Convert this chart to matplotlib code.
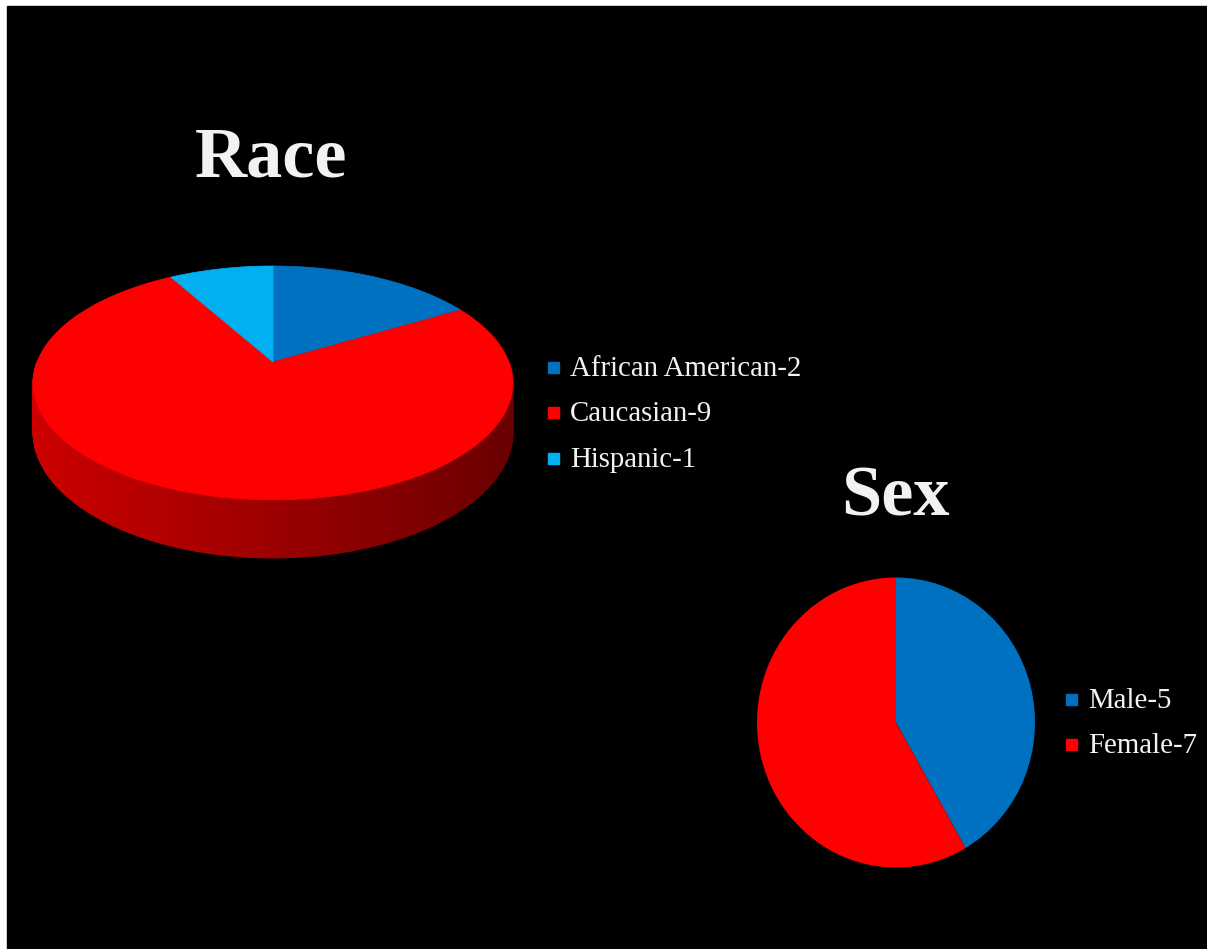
import numpy as np
import matplotlib.pyplot as plt
from matplotlib.colors import to_rgb
from matplotlib.patches import Rectangle, Polygon
from matplotlib.collections import PolyCollection

race_labels = ['African American-2', 'Caucasian-9', 'Hispanic-1']
race_counts = [2, 9, 1]
race_colors = ['#0070C0', '#FF0000', '#00B0F0']

sex_labels = ['Male-5', 'Female-7']
sex_counts = [5, 7]
sex_colors = ['#0070C0', '#FF0000']

W, H = 1207, 949
fig = plt.figure(figsize=(W / 100, H / 100), dpi=100, facecolor='white')
ax = fig.add_axes([0, 0, 1, 1])
ax.set_xlim(0, W)
ax.set_ylim(H, 0)
ax.axis('off')
ax.add_patch(Rectangle((7, 6), W, H, color='black', zorder=0))

serif = 'Liberation Serif'
txt_color = '#F2F2F2'

# --- Race: tilted 3D pie, drawn in pixel space with a simple perspective ---
cx, cy = 273, 362
rx, ry, k, depth = 236, 113.2, 0.179, 47.6


def project(t, z=0.0):
    x, y = np.cos(t), np.sin(t)
    f = 1 + k * y
    return cx + rx * x / f, cy - ry * y / f + depth * z / f


total = sum(race_counts)
bounds = 90 - 360 * np.concatenate([[0], np.cumsum(race_counts)]) / total

# side wall (front half only), shaded darker towards the right
ts = np.linspace(np.pi, 2 * np.pi, 181)
strips, shades = [], []
for a, b in zip(ts[:-1], ts[1:]):
    deg = np.degrees(0.5 * (a + b))
    # which slice owns this part of the rim
    d = (deg - 360) if deg > 90 else deg
    idx = 0
    for i in range(len(race_counts)):
        lo, hi = sorted((bounds[i + 1], bounds[i]))
        if lo <= d <= hi or lo <= d - 360 <= hi:
            idx = i
    xa, ya = project(a)
    xb, yb = project(b)
    xb2, yb2 = project(b, 1)
    xa2, ya2 = project(a, 1)
    strips.append([(xa, ya), (xb, yb), (xb2, yb2), (xa2, ya2)])
    frac = (xa - (cx - rx)) / (2 * rx)
    base = np.array(to_rgb(race_colors[idx]))
    shades.append(tuple(base * (0.80 - 0.38 * frac)))
ax.add_collection(PolyCollection(strips, facecolors=shades, edgecolors=shades,
                                 linewidths=0.8, zorder=2))

# top face
for i, col in enumerate(race_colors):
    t = np.radians(np.linspace(bounds[i], bounds[i + 1], 120))
    px, py = project(t)
    pts = [(cx, cy)] + list(zip(px, py))
    ax.add_patch(Polygon(pts, closed=True, facecolor=col, edgecolor=col,
                         linewidth=0.5, zorder=3))

ax.text(271, 176, 'Race', fontsize=52, fontweight='bold', family=serif,
        color=txt_color, ha='center', va='baseline')

race_y = [368, 413, 459]
for y, lab, col in zip(race_y, race_labels, race_colors):
    ax.add_patch(Rectangle((548, y - 6), 11, 11, color=col, zorder=3))
    ax.text(570, y + 8, lab, fontsize=20.8, family=serif, color=txt_color,
            va='baseline', ha='left')

# --- Sex: flat pie ---
scx, scy, srx, sry = 896, 722.5, 139, 145
ax2 = fig.add_axes([(scx - srx) / W, (H - scy - sry) / H, 2 * srx / W, 2 * sry / H])
ax2.pie(sex_counts, colors=sex_colors, startangle=90, counterclock=False,
        radius=1, wedgeprops=dict(linewidth=0))
ax2.set_xlim(-1, 1)
ax2.set_ylim(-1, 1)
ax2.set_aspect('auto')
ax2.patch.set_visible(False)

ax.text(895, 516, 'Sex', fontsize=52, fontweight='bold', family=serif,
        color=txt_color, ha='center', va='baseline')

sex_y = [700, 745]
for y, lab, col in zip(sex_y, sex_labels, sex_colors):
    ax.add_patch(Rectangle((1066, y - 6), 11, 11, color=col, zorder=3))
    ax.text(1088, y + 8, lab, fontsize=20.8, family=serif, color=txt_color,
            va='baseline', ha='left')

fig.savefig('out.png', dpi=100, facecolor='white')
